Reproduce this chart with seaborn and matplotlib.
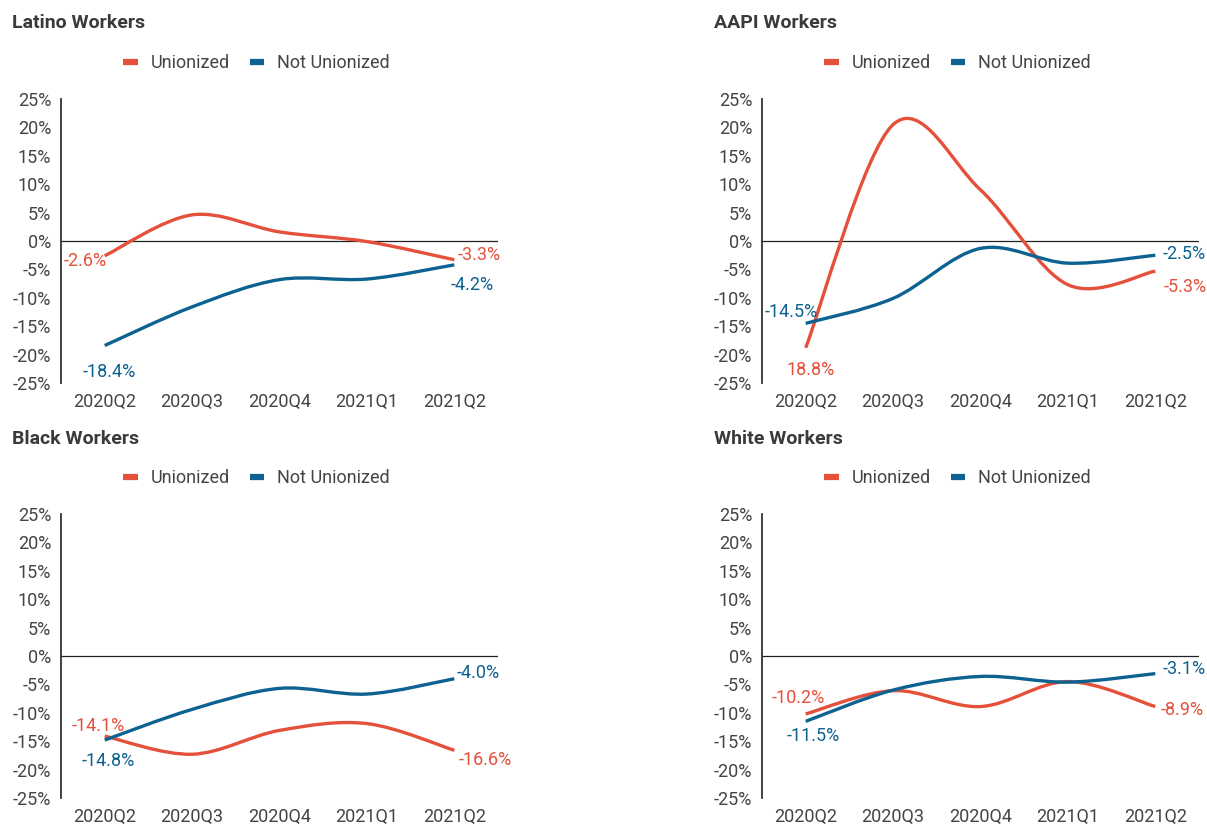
import matplotlib
matplotlib.use("Agg")
import matplotlib.pyplot as plt
from matplotlib.path import Path
from matplotlib.patches import PathPatch
import numpy as np
import pandas as pd
import seaborn as sns

quarters = ["2020Q2", "2020Q3", "2020Q4", "2021Q1", "2021Q2"]

latino_union = [-2.6, 4.6, 1.6, -0.1, -3.3]
latino_non = [-18.4, -11.6, -6.8, -6.7, -4.2]
aapi_union = [-18.8, 20.5, 9.0, -7.7, -5.3]
aapi_non = [-14.5, -10.1, -1.3, -3.9, -2.5]
black_union = [-14.1, -17.3, -13.1, -11.9, -16.6]
black_non = [-14.8, -9.4, -5.7, -6.7, -4.0]
white_union = [-10.2, -6.1, -8.9, -4.5, -8.9]
white_non = [-11.5, -6.0, -3.6, -4.6, -3.1]

# end labels (start label of AAPI unionized is printed without minus in the original)
latino_labels = ["-2.6%", "-3.3%", "-18.4%", "-4.2%"]
aapi_labels = ["18.8%", "-5.3%", "-14.5%", "-2.5%"]
black_labels = ["-14.1%", "-16.6%", "-14.8%", "-4.0%"]
white_labels = ["-10.2%", "-8.9%", "-11.5%", "-3.1%"]

RED = "#E5503B"
BLUE = "#0C6291"
TXT = "#444444"

sns.set_theme(style="white")
plt.rcParams["font.family"] = ["Roboto", "DejaVu Sans"]


def smooth_path(xs, ys):
    pts = np.column_stack([xs, ys]).astype(float)
    ext = np.vstack([pts[0], pts, pts[-1]])
    verts = [pts[0]]
    codes = [Path.MOVETO]
    for i in range(len(pts) - 1):
        p0, p1, p2, p3 = ext[i], ext[i + 1], ext[i + 2], ext[i + 3]
        verts += [p1 + (p2 - p0) / 6, p2 - (p3 - p1) / 6, p2]
        codes += [Path.CURVE4] * 3
    return Path(verts, codes)


fig = plt.figure(figsize=(12.07, 8.26), dpi=100)
W, H = 1207, 826

# title, unionized, not unionized, labels, offsets (px) for [u start, u end, n start, n end],
# alignments, axes box in px (left, top) and title position
panels = [
    ("Latino Workers", latino_union, latino_non, latino_labels,
     [(2, -5), (3, 5), (5, -26), (-4, -20)], ["right", "left", "center", "left"], (61, 99, 12, 23)),
    ("AAPI Workers", aapi_union, aapi_non, aapi_labels,
     [(5, -22), (8, -16), (-14, 11), (7, 1)], ["center", "left", "center", "left"], (762, 99, 714, 23)),
    ("Black Workers", black_union, black_non, black_labels,
     [(-6, 10), (4, -10), (4, -21), (2, 6)], ["center", "left", "center", "left"], (61, 514, 12, 439)),
    ("White Workers", white_union, white_non, white_labels,
     [(-7, 16), (5, -3), (8, -15), (7, 5)], ["center", "left", "center", "left"], (762, 514, 714, 439)),
]

for title, union, non, labels, offs, aligns, (axl, axt, tx, ty) in panels:
    ax = fig.add_axes([axl / W, 1 - (axt + 284) / H, 437 / W, 284 / H])
    df = pd.DataFrame({
        "pos": list(range(len(quarters))) * 2,
        "value": union + non,
        "group": ["Unionized"] * len(union) + ["Not Unionized"] * len(non),
    })
    sns.lineplot(data=df, x="pos", y="value", hue="group",
                 hue_order=["Unionized", "Not Unionized"],
                 palette=[RED, BLUE], ax=ax, linewidth=2.4)
    # swap the straight segments for smooth curves through the same points
    for line in list(ax.get_lines()):
        xy = line.get_xydata()
        if len(xy) < 2:
            continue
        ax.add_patch(PathPatch(smooth_path(xy[:, 0], xy[:, 1]), fill=False,
                               edgecolor=line.get_color(), lw=2.4,
                               capstyle="butt", joinstyle="round", zorder=3))
        line.set_visible(False)

    ax.axhline(0, color="#222222", lw=0.9, zorder=2)
    ax.set_xlim(-0.5, 4.5)
    ax.set_ylim(-25, 25)
    ax.set_xticks(range(len(quarters)))
    ax.set_xticklabels(quarters)
    yt = list(range(-25, 30, 5))
    ax.set_yticks(yt)
    ax.set_yticklabels([f"{t}%" for t in yt])
    ax.set_xlabel("")
    ax.set_ylabel("")
    ax.tick_params(axis="both", length=0, labelsize=13, colors=TXT)
    ax.tick_params(axis="x", pad=7)
    ax.tick_params(axis="y", pad=7)
    sns.despine(ax=ax, bottom=True)
    ax.spines["left"].set_color("#333333")
    ax.spines["left"].set_linewidth(1.3)

    # endpoint labels
    series = [(union, 0, RED), (union, -1, RED), (non, 0, BLUE), (non, -1, BLUE)]
    for (vals, idx, col), lab, off, ha in zip(series, labels, offs, aligns):
        xi = idx if idx >= 0 else len(vals) - 1
        ax.annotate(lab, (xi, vals[idx]), xytext=off, textcoords="offset pixels",
                    ha=ha, va="center", color=col, fontsize=13, zorder=4)

    sns.move_legend(ax, "center", bbox_to_anchor=(0.447, 1.127), ncol=2,
                    frameon=False, title=None, fontsize=13,
                    handlelength=0.8, handletextpad=0.7, columnspacing=1.1)
    leg = ax.get_legend()
    for h in leg.legend_handles:
        h.set_linewidth(4.5)
        h.set_solid_capstyle("butt")
    for t in leg.get_texts():
        t.set_color(TXT)

    fig.text(tx / W, 1 - ty / H, title, fontsize=14, fontweight="bold",
             color="#3a3a3a", ha="left", va="center")

fig.savefig("out.png", dpi=100)
